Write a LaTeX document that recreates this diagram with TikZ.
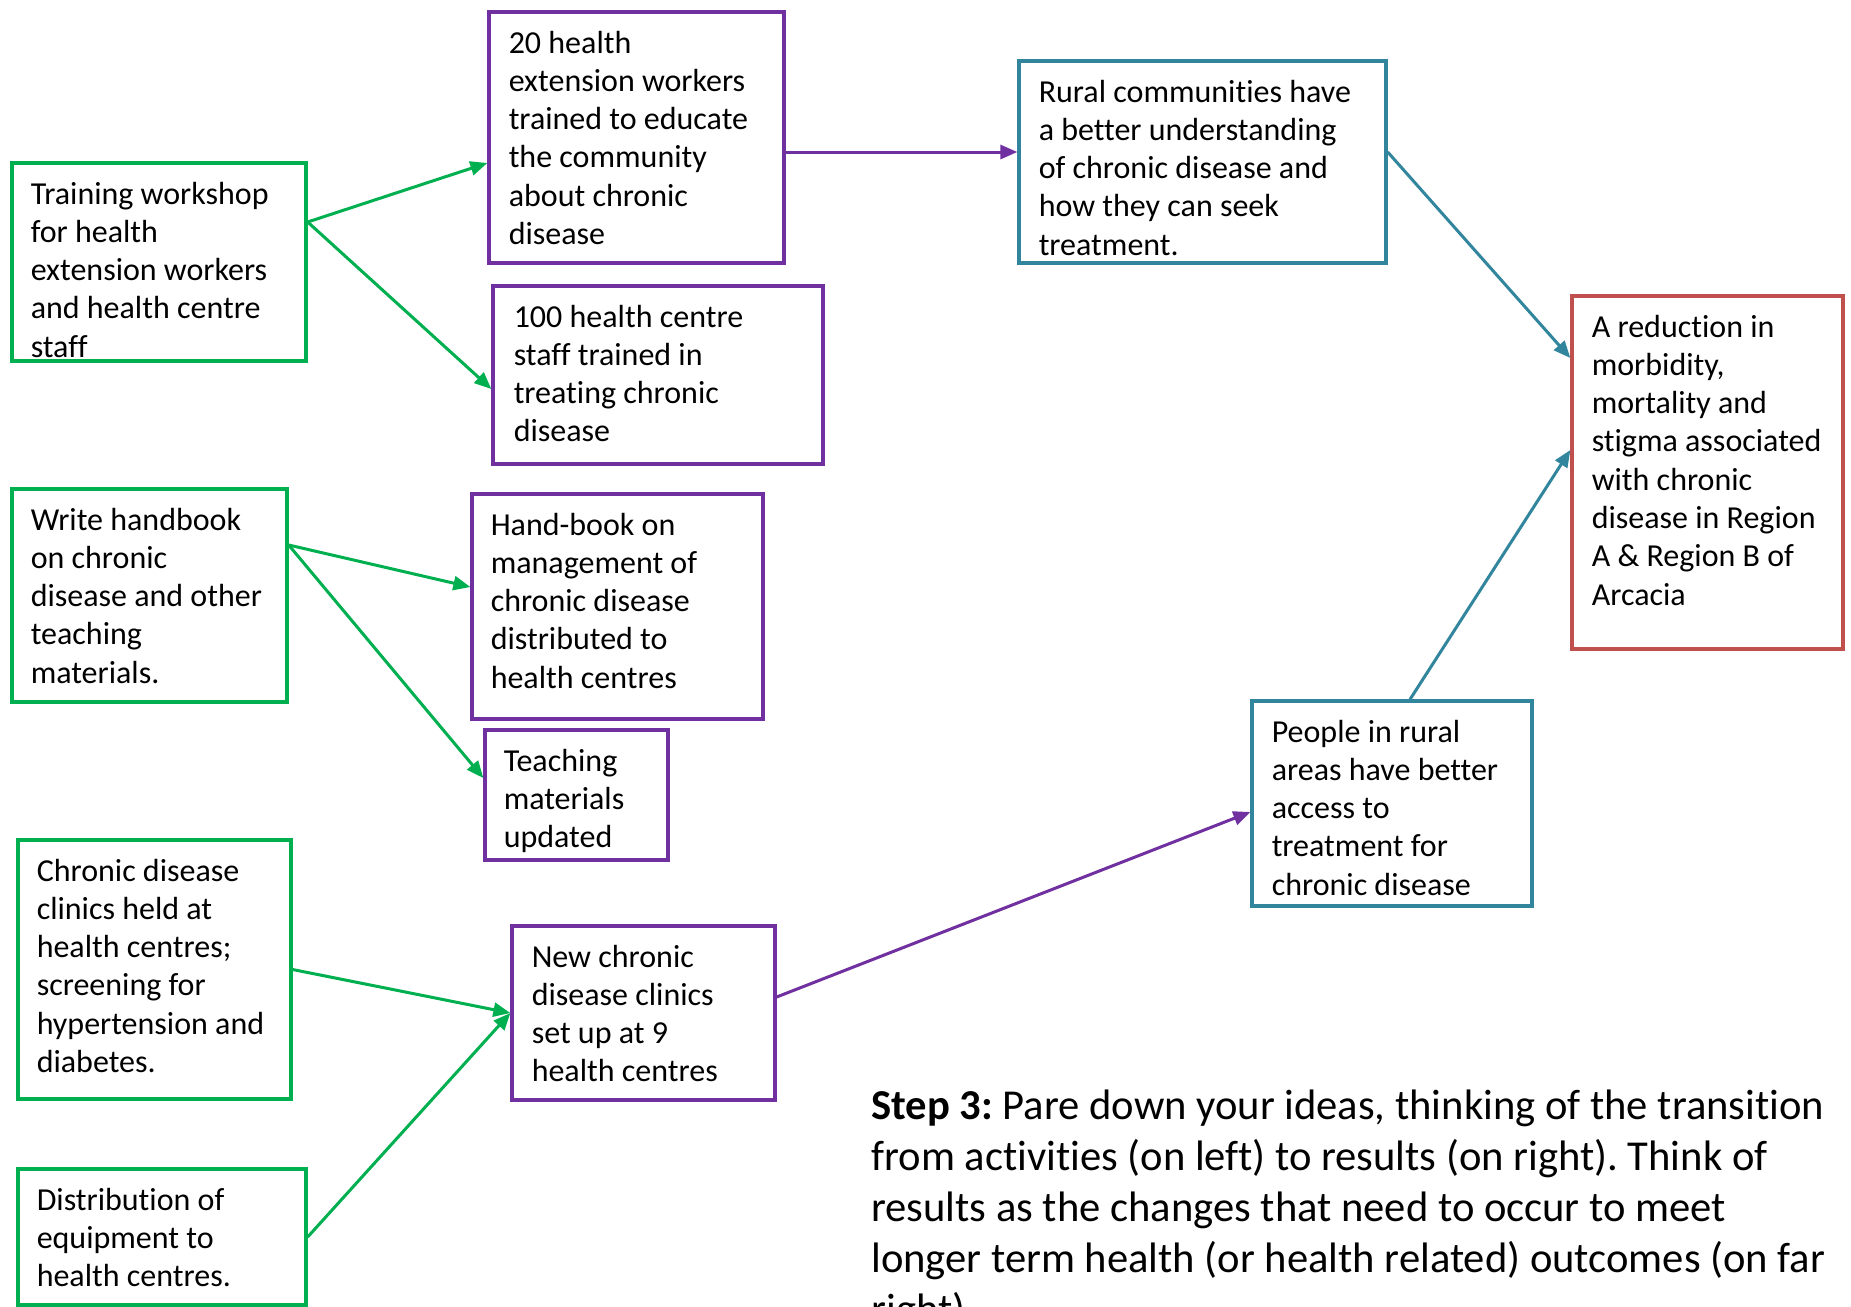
\documentclass[tikz,border=0pt]{standalone}
\usepackage{fontspec}
\setmainfont{Carlito}[Ligatures=NoCommon]
\usetikzlibrary{arrows.meta,calc,fit}

\definecolor{actgreen}{HTML}{00B050}
\definecolor{outpurple}{HTML}{7030A0}
\definecolor{resteal}{HTML}{31859C}
\definecolor{goalred}{HTML}{C0504D}

\newcommand\boxfont{\fontsize{16pt}{19.15pt}\selectfont}
\newcommand\notefont{\fontsize{21.3pt}{25.5pt}\selectfont}
\frenchspacing

\begin{document}
\begin{tikzpicture}[x=0.5pt,y=-0.5pt,
  outline/.style={draw=#1, line width=1.65pt, inner sep=0pt, fill=white},
  boxtext/.style={anchor=north west, inner sep=0pt, align=left, font=\boxfont},
  link/.style={draw=#1, line width=1.5pt, -{Triangle[length=8.5pt,width=7pt]}}]

\clip (0,0) rectangle (1851,1306);
\fill[white] (0,0) rectangle (1851,1306);

% ---- activities (green) ----
\node[outline=actgreen, fit={(12,163) (306,361)}] (train) {};
\node[boxtext] (train-t) at ($(train.north west)+(20,15.5)$)
  {\strut Training workshop\\for health\\extension workers\\and health centre\\staff};

\node[outline=actgreen, fit={(12,489) (287,702)}] (write) {};
\node[boxtext] (write-t) at ($(write.north west)+(20,15.5)$)
  {\strut Write handbook\\on chronic\\disease and other\\teaching\\materials.};

\node[outline=actgreen, fit={(18,840) (291,1099)}] (clinic) {};
\node[boxtext] (clinic-t) at ($(clinic.north west)+(20,15.5)$)
  {\strut Chronic disease\\clinics held at\\health centres;\\screening for\\hypertension and\\diabetes.};

\node[outline=actgreen, fit={(18,1169) (306,1305)}] (equip) {};
\node[boxtext] (equip-t) at ($(equip.north west)+(20,15.5)$)
  {\strut Distribution of\\equipment to\\health centres.};

% ---- outputs (purple) ----
\node[outline=outpurple, fit={(489,12) (784,263)}] (hew) {};
\node[boxtext] (hew-t) at ($(hew.north west)+(21,15.5)$)
  {\strut 20 health\\extension workers\\trained to educate\\the community\\about chronic\\disease};

\node[outline=outpurple, fit={(493,286) (823,464)}] (staff) {};
\node[boxtext] (staff-t) at ($(staff.north west)+(22,15.5)$)
  {\strut 100 health centre\\staff trained in\\treating chronic\\disease};

\node[outline=outpurple, fit={(472,494) (763,719)}] (hbook) {};
\node[boxtext] (hbook-t) at ($(hbook.north west)+(20,15.5)$)
  {\strut Hand-book on\\management of\\chronic disease\\distributed to\\health centres};

\node[outline=outpurple, fit={(485,730) (668,860)}] (teach) {};
\node[boxtext] (teach-t) at ($(teach.north west)+(20,15.5)$)
  {\strut Teaching\\materials\\updated};

\node[outline=outpurple, fit={(512,926) (775,1100)}] (newcl) {};
\node[boxtext] (newcl-t) at ($(newcl.north west)+(21,15.5)$)
  {\strut New chronic\\disease clinics\\set up at 9\\health centres};

% ---- results (teal) ----
\node[outline=resteal, fit={(1019,61) (1386,263)}] (rural) {};
\node[boxtext] (rural-t) at ($(rural.north west)+(21,15.5)$)
  {\strut Rural communities have\\a better understanding\\of chronic disease and\\how they can seek\\treatment.};

\node[outline=resteal, fit={(1252,701) (1532,906)}] (access) {};
\node[boxtext] (access-t) at ($(access.north west)+(21,15.5)$)
  {\strut People in rural\\areas have better\\access to\\treatment for\\chronic disease};

% ---- long-term outcome (red) ----
\node[outline=goalred, fit={(1572,296) (1843,649)}] (goal) {};
\node[boxtext] (goal-t) at ($(goal.north west)+(21,15.5)$)
  {\strut A reduction in\\morbidity,\\mortality and\\stigma associated\\with chronic\\disease in Region\\A \& Region B of\\Arcacia};

% ---- connectors ----
\draw[link=actgreen] ([yshift=20pt]train.east) -- ([yshift=-12.75pt]hew.west);
\draw[link=actgreen] ([yshift=20pt]train.east) -- ([yshift=-7pt]staff.west);
\draw[link=actgreen] ([yshift=25.25pt]write.east) -- ([yshift=9.75pt]hbook.west);
\draw[link=actgreen] ([yshift=25.25pt]write.east) -- ([yshift=8.5pt]teach.west);
\draw[link=actgreen] (clinic.east) -- (newcl.west);
\draw[link=actgreen] (equip.east) -- (newcl.west);

\draw[link=outpurple] ([yshift=-7.25pt]hew.east) -- ([yshift=-7.25pt]hew.east -| rural.west);
\draw[link=outpurple] ([yshift=8pt]newcl.east) -- ([yshift=-4.25pt]access.west);

\draw[link=resteal] ([yshift=5pt]rural.east) -- ([yshift=57.25pt]goal.west);
\draw[link=resteal] ([xshift=9pt]access.north) -- ([yshift=11.25pt]goal.west);

% ---- note ----
\node[anchor=north west, inner sep=0pt, align=left, font=\notefont] (note) at (871,1083)
  {\strut\textbf{Step 3:} Pare down your ideas, thinking of the transition\\
   from activities (on left) to results (on right). Think of\\
   results as the changes that need to occur to meet\\
   longer term health (or health related) outcomes (on far\\
   right).};
\end{tikzpicture}
\end{document}
